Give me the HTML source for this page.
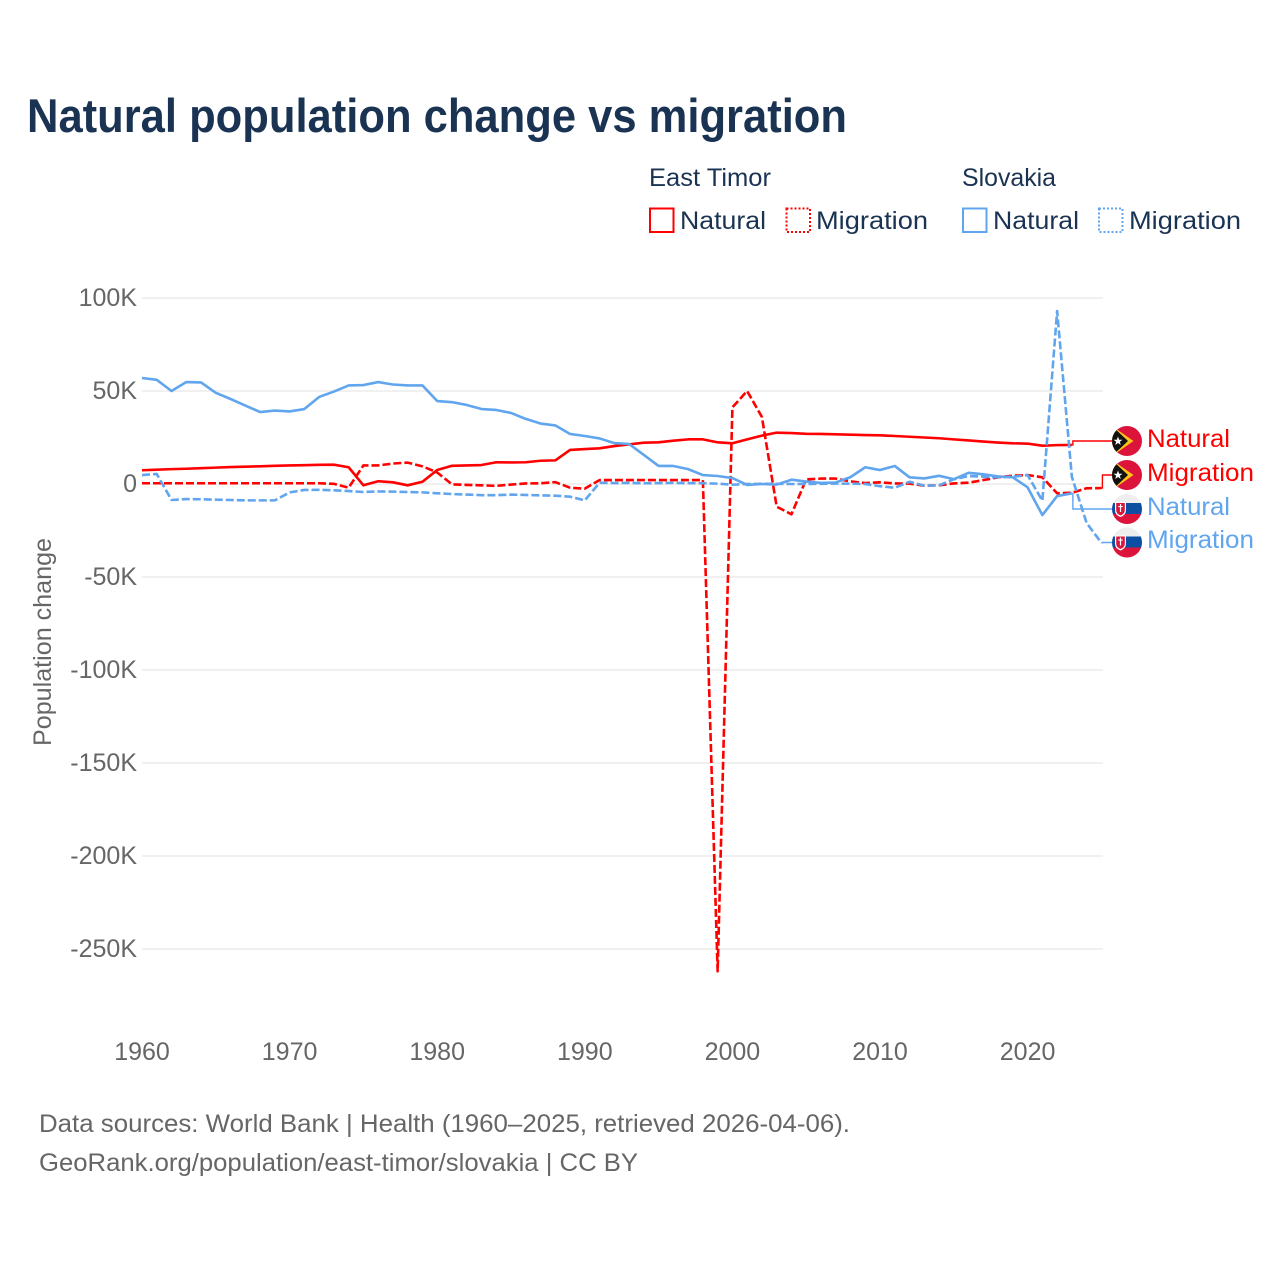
<!DOCTYPE html>
<html lang="en">
<head>
<meta charset="utf-8">
<title>Natural population change vs migration</title>
<style>
html,body{margin:0;padding:0;background:#fff;}
svg{display:block;}
text{font-family:"Liberation Sans",sans-serif;}
.tick{font-size:25px;fill:#666;}
.leg{font-size:25px;fill:#1a3353;}
.foot{font-size:25px;fill:#666;}
.end{font-size:25px;}
</style>
</head>
<body>
<svg id="chart" width="1280" height="1280" viewBox="0 0 1280 1280" xmlns="http://www.w3.org/2000/svg">
  <defs>
    <clipPath id="flag-clip"><circle cx="0" cy="0" r="15"/></clipPath>
  </defs>
  <rect width="1280" height="1280" fill="#fff"/>
  <text x="27" y="132" font-size="47" font-weight="700" fill="#1a3353" textLength="820" lengthAdjust="spacingAndGlyphs">Natural population change vs migration</text>

  <g>
    <text class="leg" x="649" y="186" textLength="122" lengthAdjust="spacingAndGlyphs">East Timor</text>
    <text class="leg" x="962" y="186" textLength="94" lengthAdjust="spacingAndGlyphs">Slovakia</text>
    <g>
      <rect x="650" y="208.500" width="23.500" height="23.500" fill="none" stroke="#ff0000" stroke-width="2"/>
      <text class="leg" x="680" y="229" textLength="86" lengthAdjust="spacingAndGlyphs">Natural</text>
    </g>
    <g>
      <rect x="786.500" y="208.500" width="23.500" height="23.500" fill="none" stroke="#ff0000" stroke-width="2" stroke-dasharray="2,2"/>
      <text class="leg" x="816" y="229" textLength="112" lengthAdjust="spacingAndGlyphs">Migration</text>
    </g>
    <g>
      <rect x="963" y="208.500" width="23.500" height="23.500" fill="none" stroke="#60a5ee" stroke-width="2"/>
      <text class="leg" x="993" y="229" textLength="86" lengthAdjust="spacingAndGlyphs">Natural</text>
    </g>
    <g>
      <rect x="1099" y="208.500" width="23.500" height="23.500" fill="none" stroke="#60a5ee" stroke-width="2" stroke-dasharray="2,2"/>
      <text class="leg" x="1129" y="229" textLength="112" lengthAdjust="spacingAndGlyphs">Migration</text>
    </g>
  </g>

  <g id="grid"></g>
  <g id="yticks"></g>
  <g id="xticks"></g>
  <text class="tick" transform="translate(51,642) rotate(-90)" text-anchor="middle" textLength="208" lengthAdjust="spacingAndGlyphs">Population change</text>
  <g id="connectors"></g>
  <g id="series"></g>

  <g id="flags">
    <g transform="translate(1127,441)">
      <g clip-path="url(#flag-clip)">
        <rect x="-15" y="-15" width="30" height="30" fill="#dc143c"/>
        <polygon points="-15,-15 6.500,0 -15,15" fill="#fcc419"/>
        <polygon points="-15,-15 1,0 -15,15" fill="#111"/>
        <polygon points="-9,-4.500 -7.800,-1.300 -4.500,-1.300 -7.200,0.800 -6.200,4 -9,2 -11.800,4 -10.800,0.800 -13.500,-1.300 -10.200,-1.300" fill="#fff"/>
      </g>
    </g>
    <g transform="translate(1127,475)">
      <g clip-path="url(#flag-clip)">
        <rect x="-15" y="-15" width="30" height="30" fill="#dc143c"/>
        <polygon points="-15,-15 6.500,0 -15,15" fill="#fcc419"/>
        <polygon points="-15,-15 1,0 -15,15" fill="#111"/>
        <polygon points="-9,-4.500 -7.800,-1.300 -4.500,-1.300 -7.200,0.800 -6.200,4 -9,2 -11.800,4 -10.800,0.800 -13.500,-1.300 -10.200,-1.300" fill="#fff"/>
      </g>
    </g>
    <g transform="translate(1127,509)">
      <g clip-path="url(#flag-clip)">
        <rect x="-15" y="-15" width="30" height="10" fill="#eeeeee"/>
        <rect x="-15" y="-6" width="30" height="11.500" fill="#0b4ea2"/>
        <rect x="-15" y="5" width="30" height="10" fill="#dc143c"/>
        <path d="M-12,-7 H-1 V1 Q-1,6 -6.500,8 Q-12,6 -12,1 Z" fill="#fff"/>
        <path d="M-10.800,-6 H-2.200 V1 Q-2.200,4.800 -6.500,6.500 Q-10.800,4.800 -10.800,1 Z" fill="#dc143c"/>
        <rect x="-7.100" y="-5" width="1.200" height="8" fill="#fff"/>
        <rect x="-8.700" y="-3" width="4.400" height="1.100" fill="#fff"/>
      </g>
    </g>
    <g transform="translate(1127,542.500)">
      <g clip-path="url(#flag-clip)">
        <rect x="-15" y="-15" width="30" height="10" fill="#eeeeee"/>
        <rect x="-15" y="-6" width="30" height="11.500" fill="#0b4ea2"/>
        <rect x="-15" y="5" width="30" height="10" fill="#dc143c"/>
        <path d="M-12,-7 H-1 V1 Q-1,6 -6.500,8 Q-12,6 -12,1 Z" fill="#fff"/>
        <path d="M-10.800,-6 H-2.200 V1 Q-2.200,4.800 -6.500,6.500 Q-10.800,4.800 -10.800,1 Z" fill="#dc143c"/>
        <rect x="-7.100" y="-5" width="1.200" height="8" fill="#fff"/>
        <rect x="-8.700" y="-3" width="4.400" height="1.100" fill="#fff"/>
      </g>
    </g>
  </g>

  <g>
    <text class="end" x="1147" y="447" fill="#ff0000" textLength="83" lengthAdjust="spacingAndGlyphs">Natural</text>
    <text class="end" x="1147" y="481" fill="#ff0000" textLength="107" lengthAdjust="spacingAndGlyphs">Migration</text>
    <text class="end" x="1147" y="515" fill="#60a5ee" textLength="83" lengthAdjust="spacingAndGlyphs">Natural</text>
    <text class="end" x="1147" y="548" fill="#60a5ee" textLength="107" lengthAdjust="spacingAndGlyphs">Migration</text>
  </g>

  <g>
    <text class="foot" x="39" y="1132" textLength="811" lengthAdjust="spacingAndGlyphs">Data sources: World Bank | Health (1960–2025, retrieved 2026-04-06).</text>
    <text class="foot" x="39" y="1171" textLength="599" lengthAdjust="spacingAndGlyphs">GeoRank.org/population/east-timor/slovakia | CC BY</text>
  </g>
</svg>
<script>
const startYear = 1960;
const xTickLabels = [1960, 1970, 1980, 1990, 2000, 2010, 2020];
const yTickValues = [100, 50, 0, -50, -100, -150, -200, -250];
const eastTimorNatural = [7.4,7.7,8.0,8.2,8.5,8.8,9.1,9.3,9.5,9.8,10.0,10.1,10.3,10.4,9.0,-0.7,1.5,0.9,-0.7,1.2,7.5,9.8,10.0,10.2,11.7,11.6,11.7,12.5,12.7,18.3,18.8,19.2,20.4,21.3,22.2,22.4,23.3,24.0,24.0,22.4,21.9,24.0,26.0,27.6,27.4,27.0,26.9,26.7,26.5,26.3,26.2,25.8,25.4,25.0,24.6,24.0,23.4,22.8,22.3,21.9,21.7,20.6,20.9,21.0];
const eastTimorMigration = [0.4,0.4,0.4,0.4,0.4,0.4,0.4,0.4,0.4,0.4,0.4,0.4,0.4,0.1,-2.0,10.0,10.0,11.0,11.5,9.5,6.2,-0.2,-0.5,-0.7,-1.0,-0.3,0.3,0.4,1.0,-2.0,-2.5,2.1,2.1,2.1,2.1,2.1,2.1,2.1,2.1,-262,41.2,50.0,36.0,-12.2,-16.3,2.5,2.9,2.9,1.4,0.5,0.9,0.3,0.2,-0.9,-0.7,0.3,0.7,2.1,3.6,4.5,4.8,3.6,-5.0,-4.7,-2.3,-2.2];
const slovakiaNatural = [57.0,56.0,50.0,54.8,54.6,49.0,45.7,42.2,38.7,39.5,39.0,40.3,46.8,49.7,53.0,53.2,54.8,53.5,53.0,53.0,44.6,44.0,42.5,40.3,39.8,38.2,35.0,32.5,31.5,26.9,25.8,24.5,22.0,21.5,15.6,9.7,9.7,8.0,4.8,4.3,3.2,-0.5,0.0,-0.3,2.3,1.3,0.6,0.8,3.7,9.0,7.5,9.7,3.6,3.0,4.4,2.6,6.0,5.2,4.1,3.6,-1.8,-16.7,-6.5,-5.0];
const slovakiaMigration = [4.8,5.4,-8.6,-8.1,-8.2,-8.4,-8.6,-8.8,-8.8,-8.8,-4.5,-3.2,-3.1,-3.4,-3.8,-4.3,-4.0,-4.1,-4.3,-4.5,-5.0,-5.4,-5.7,-6.0,-6.0,-5.7,-5.9,-6.1,-6.3,-6.8,-8.8,0.7,0.5,0.6,0.4,0.5,0.6,0.5,0.4,0.2,-0.4,0.0,0.1,0.1,0.0,0.0,0.1,0.2,0.2,0.0,-1.2,-2.0,1.2,-0.9,-0.7,2.5,4.3,3.9,3.6,3.9,4.8,-9.0,93.0,3.8,-21.0,-31.6];

const SVG_NS = 'http://www.w3.org/2000/svg';
const RED = '#ff0000';
const BLUE = '#60a5ee';
function xScale(year) { return 142 + (year - 1960) * 14.76; }
function yScale(k) { return 484 - k * 1.86; }
function fmt(k) { return k === 0 ? '0' : k + 'K'; }
function pointsOf(values) {
  return values.map(function (v, i) {
    return xScale(startYear + i).toFixed(2) + ',' + yScale(v).toFixed(2);
  }).join(' ');
}

const grid = document.getElementById('grid');
const yticks = document.getElementById('yticks');
yTickValues.forEach(function (v) {
  const line = document.createElementNS(SVG_NS, 'line');
  
  
  line.setAttribute('x1', 142);
  line.setAttribute('x2', 1103);
  line.setAttribute('y1', yScale(v));
  line.setAttribute('y2', yScale(v));
  line.setAttribute('stroke', '#f0f0f0');
  line.setAttribute('stroke-width', 2);
  grid.appendChild(line);
  const t = document.createElementNS(SVG_NS, 'text');
  
  
  t.setAttribute('class', 'tick');
  t.setAttribute('x', 137);
  t.setAttribute('y', yScale(v) + 8);
  t.setAttribute('text-anchor', 'end');
  t.textContent = fmt(v);
  yticks.appendChild(t);
});

const xticks = document.getElementById('xticks');
xTickLabels.forEach(function (y) {
  const t = document.createElementNS(SVG_NS, 'text');
  
  
  t.setAttribute('class', 'tick');
  t.setAttribute('x', xScale(y));
  t.setAttribute('y', 1060);
  t.setAttribute('text-anchor', 'middle');
  t.textContent = y;
  xticks.appendChild(t);
});

function drawConnector(values, color, labelY) {
  const lastX = xScale(startYear + values.length - 1);
  const lastY = yScale(values[values.length - 1]);
  const midX = lastX + 1;
  const p = document.createElementNS(SVG_NS, 'polyline');
  
  
  p.setAttribute('points', lastX + ',' + lastY + ' ' + midX + ',' + lastY + ' ' + midX + ',' + labelY + ' 1112,' + labelY);
  p.setAttribute('fill', 'none');
  p.setAttribute('stroke', color);
  p.setAttribute('stroke-width', 1.4);
  document.getElementById('connectors').appendChild(p);
}
drawConnector(eastTimorNatural, RED, 441);
drawConnector(eastTimorMigration, RED, 475);
drawConnector(slovakiaNatural, BLUE, 509);
drawConnector(slovakiaMigration, BLUE, 542.5);

function drawLine(values, color, dashed, name) {
  const p = document.createElementNS(SVG_NS, 'polyline');
  
  
  p.setAttribute('points', pointsOf(values));
  p.setAttribute('fill', 'none');
  p.setAttribute('stroke', color);
  p.setAttribute('stroke-width', 2.6);
  p.setAttribute('stroke-linejoin', 'round');
  if (dashed) p.setAttribute('stroke-dasharray', '8,3');
  document.getElementById('series').appendChild(p);
}
drawLine(eastTimorNatural, RED, false, 'line-east-timor-natural');
drawLine(eastTimorMigration, RED, true, 'line-east-timor-migration');
drawLine(slovakiaNatural, BLUE, false, 'line-slovakia-natural');
drawLine(slovakiaMigration, BLUE, true, 'line-slovakia-migration');
</script>
</body>
</html>
